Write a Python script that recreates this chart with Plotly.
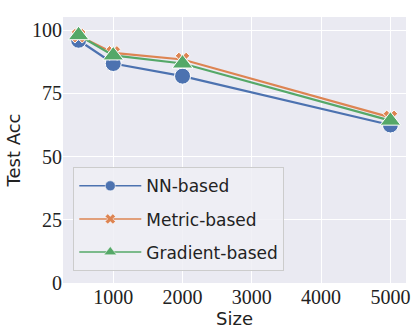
import plotly.graph_objects as go

sizes = [500, 1000, 2000, 5000]
nn_based = [96.0, 86.8, 81.8, 62.5]
metric_based = [97.8, 91.0, 88.4, 65.5]
gradient_based = [98.0, 90.0, 86.8, 64.2]

series = [
    ("NN-based", nn_based, "#4C72B0", "circle", 16, 10),
    ("Metric-based", metric_based, "#DD8452", "x", 13, 9),
    ("Gradient-based", gradient_based, "#55A868", "triangle-up", 18, 11),
]

fig = go.Figure()
for name, vals, color, symbol, msize, lsize in series:
    fig.add_trace(
        go.Scatter(x=sizes, y=vals, name=name,
                   mode='lines+markers',
                   showlegend=False,
                   line=dict(color=color, width=2.2),
                   marker=dict(color=color, symbol=symbol, size=msize,
                               line=dict(color='white', width=1)),
                   )
    )
    # legend-only entry with smaller marker / thinner line, like seaborn
    fig.add_trace(
        go.Scatter(x=[None], y=[None], name=name,
                   mode='lines+markers',
                   legendgroup=name,
                   line=dict(color=color, width=1.5),
                   marker=dict(color=color, symbol=symbol, size=lsize,
                               line=dict(color='white', width=0.5)),
                   )
    )

fig.update_layout(
    width=415,
    height=332,
    paper_bgcolor='white',
    plot_bgcolor='#EAEAF2',
    font=dict(family="DejaVu Sans", size=17, color='#222222'),
    margin=dict(l=63, r=5, t=17, b=49, pad=0),
    xaxis=dict(range=[275, 5225], tickvals=[1000, 2000, 3000, 4000, 5000],
               showgrid=True, gridcolor='white', gridwidth=1, zeroline=False,
               tickfont=dict(family="Liberation Serif", size=20, color='#222222'),
               title=dict(text='Size', font=dict(size=18), standoff=0),
               ticks='', ticklen=0),
    yaxis=dict(range=[0, 105.2], tickvals=[0, 25, 50, 75, 100],
               showgrid=True, gridcolor='white', gridwidth=1, zeroline=False,
               tickfont=dict(family="Liberation Serif", size=20, color='#222222'),
               title=dict(text='Test Acc', font=dict(size=18), standoff=6),
               ticks='', ticklen=0),
    legend=dict(x=0.03, y=0.435, xanchor='left', yanchor='top',
                bgcolor='rgba(238,238,244,0.85)', bordercolor='#CCCCCC', borderwidth=1,
                font=dict(size=17), itemwidth=62,
                tracegroupgap=8),
)

fig.write_html("out.html", config=dict(displayModeBar=False),
               post_script="document.body.style.margin='0';")
